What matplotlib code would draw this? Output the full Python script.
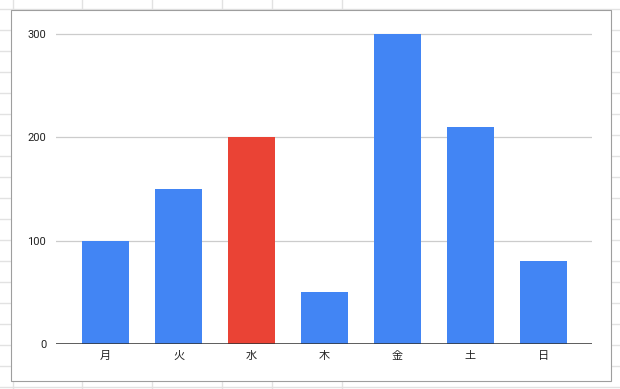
import matplotlib
matplotlib.use("Agg")
import matplotlib.pyplot as plt
from matplotlib.patches import Rectangle

plt.rcParams['font.family'] = ['Roboto', 'Noto Sans CJK JP', 'DejaVu Sans']

# data
days = ['月', '火', '水', '木', '金', '土', '日']
values = [100, 150, 200, 50, 300, 210, 80]
highlight = '水'
y_ticks = [0, 100, 200, 300]

W, H = 620, 389
fig = plt.figure(figsize=(W / 100, H / 100), dpi=100)

# spreadsheet grid behind the chart
bg = fig.add_axes([0, 0, 1, 1])
bg.set_xlim(0, W)
bg.set_ylim(H, 0)
bg.axis('off')
for x in [12.5, 82, 152, 222, 272, 342]:
    bg.axvline(x, color='#e2e2e2', lw=1)
for k in range(19):
    bg.axhline(9 + 21 * k, color='#e2e2e2', lw=1)
bg.add_patch(Rectangle((10.5, 9.5), 600.5, 371.5, facecolor='white',
                       edgecolor='#9e9e9e', lw=0.8, zorder=3))

# chart area (pixel geometry of the plot box)
left_px, right_px, zero_px = 56, 592, 344
px_per_unit = 310 / 300
ymax = 303
top_px = zero_px - ymax * px_per_unit
ax = fig.add_axes([left_px / W, 1 - zero_px / H,
                   (right_px - left_px) / W, (zero_px - top_px) / H])
ax.set_zorder(5)
ax.patch.set_alpha(0)

colors = ['#ea4335' if d == highlight else '#4285f4' for d in days]
x = range(len(days))
ax.bar(x, values, width=0.644, color=colors, zorder=3)

ax.set_xlim(-0.678, len(days) - 1 + 0.664)
ax.set_ylim(0, ymax)
ax.set_yticks(y_ticks)
ax.set_yticklabels([str(v) for v in y_ticks])
ax.set_xticks(list(x))
ax.set_xticklabels(days, family=['Noto Sans CJK JP', 'DejaVu Sans'])

ax.grid(axis='y', color='#cccccc', lw=0.9, zorder=0)
ax.axhline(0, color='#333333', lw=1.1, zorder=4)
for s in ax.spines.values():
    s.set_visible(False)
ax.tick_params(axis='both', length=0, labelsize=8, colors='#222222')
ax.tick_params(axis='y', pad=7)
ax.tick_params(axis='x', pad=5)

fig.savefig('out.png', dpi=100)
